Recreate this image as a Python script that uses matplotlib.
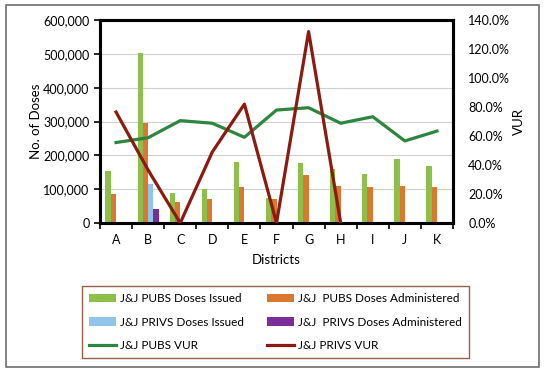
import matplotlib
matplotlib.use("Agg")
import matplotlib.pyplot as plt
import numpy as np
from matplotlib.patches import Rectangle
from matplotlib.ticker import FuncFormatter, MultipleLocator

districts = ["A", "B", "C", "D", "E", "F", "G", "H", "I", "J", "K"]
pubs_issued = [155000, 503000, 90000, 100000, 180000, 75000, 178000, 160000, 145000, 190000, 167000]
pubs_admin = [87000, 297000, 62000, 70000, 107000, 72000, 142000, 110000, 107000, 110000, 107000]
privs_issued = [3000, 115000, 0, 0, 0, 0, 0, 0, 0, 0, 0]
privs_admin = [2300, 42000, 0, 0, 0, 0, 0, 0, 0, 0, 0]
pubs_vur = [55.5, 58.8, 70.6, 68.8, 59.1, 77.9, 79.5, 68.8, 73.3, 56.6, 63.4]
privs_vur = [76.5, 36.5, 0.0, 49.0, 82.0, 0.0, 132.0, 0.0, np.nan, np.nan, np.nan]

plt.rcParams['font.family'] = ['Lato', 'DejaVu Sans']
fig = plt.figure(figsize=(5.5, 3.74), dpi=100)
fig.patches.append(Rectangle((6/550, 1-367/374), 533/550, 362/374, transform=fig.transFigure,
                             fill=False, edgecolor='#6e6e6e', linewidth=1.2))

ax = fig.add_axes([100/550, 1-223/374, 353/550, 203/374])
x = np.arange(len(districts))
w = 0.165
c_green = '#8DC04A'
c_orange = '#D9782E'
c_blue = '#8EC5E8'
c_purple = '#7B2D9B'
ax.bar(x - 1.5*w, pubs_issued, w, color=c_green, label='J&J PUBS Doses Issued', zorder=3)
ax.bar(x - 0.5*w, pubs_admin, w, color=c_orange, label='J&J  PUBS Doses Administered', zorder=3)
ax.bar(x + 0.5*w, privs_issued, w, color=c_blue, label='J&J PRIVS Doses Issued', zorder=3)
ax.bar(x + 1.5*w, privs_admin, w, color=c_purple, label='J&J  PRIVS Doses Administered', zorder=3)
ax.set_xlim(-0.5, len(districts) - 0.5)
ax.set_ylim(0, 600000)
ax.yaxis.set_major_locator(MultipleLocator(100000))
ax.yaxis.set_major_formatter(FuncFormatter(lambda v, p: f"{int(v):,}"))
ax.grid(axis='y', color='#d0d0d0', linewidth=0.8, zorder=0)
ax.set_xticks(x)
ax.set_xticklabels(districts)
ax.set_xticks(np.arange(-0.5, len(districts)), minor=True)
ax.tick_params(axis='x', which='major', length=0, pad=8, labelsize=9)
ax.tick_params(axis='x', which='minor', length=4, width=1.2, direction='out')
ax.tick_params(axis='y', length=4, width=1.2, labelsize=9)
for s in ax.spines.values():
    s.set_linewidth(2.2)
    s.set_color('black')
ax.set_ylabel('No. of Doses', fontsize=9.5, labelpad=1)
ax.set_xlabel('Districts', fontsize=9.5, labelpad=6)

ax2 = ax.twinx()
ax2.plot(x, pubs_vur, color='#2E8540', linewidth=2.3, label='J&J PUBS VUR', zorder=4)
ax2.plot(x, privs_vur, color='#8B1A12', linewidth=2.3, label='J&J PRIVS VUR', zorder=5)
ax2.set_ylim(0, 140)
ax2.yaxis.set_major_locator(MultipleLocator(20))
ax2.yaxis.set_major_formatter(FuncFormatter(lambda v, p: f"{v:.1f}%"))
ax2.tick_params(axis='y', length=0, pad=11, labelsize=9)
for s in ax2.spines.values():
    s.set_linewidth(2.2)
    s.set_color('black')
ax2.set_ylabel('VUR', fontsize=9.5, labelpad=2)

h1, l1 = ax.get_legend_handles_labels()
h2, l2 = ax2.get_legend_handles_labels()
handles = [h1[0], h1[2], h2[0], h1[1], h1[3], h2[1]]
labels = [l1[0], l1[2], l2[0], l1[1], l1[3], l2[1]]
leg = fig.legend(handles, labels, loc='lower left', ncol=2,
                 bbox_to_anchor=(82/550, 1-358/374, 387/550, 75/374), mode='expand',
                 fontsize=8.5, frameon=True, fancybox=False, handlelength=2.3,
                 borderaxespad=0, borderpad=0.6, labelspacing=1.05, handletextpad=0.3,
                 columnspacing=1.0)
leg.get_frame().set_edgecolor('#7a3b1e')
leg.get_frame().set_linewidth(1.0)

fig.savefig('out.png', dpi=100)
